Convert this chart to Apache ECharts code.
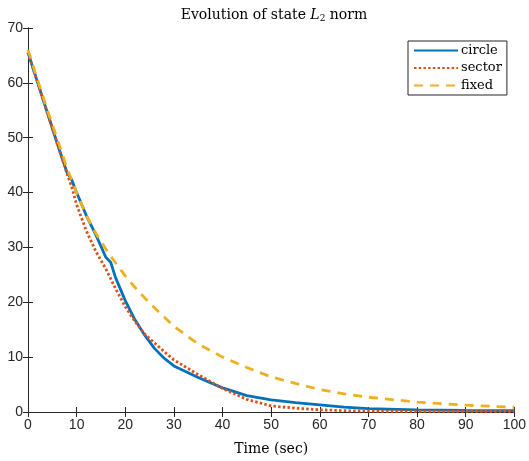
<!DOCTYPE html>
<html>
<head>
<meta charset="utf-8">
<script src="https://cdn.jsdelivr.net/npm/echarts@6/dist/echarts.min.js"></script>
<style>html,body{margin:0;padding:0;background:#fff}#c{width:529px;height:461px}</style>
</head>
<body>
<div id="c"></div>
<script>
var time   = [0, 2, 4, 6, 8, 9, 10, 12, 14, 16, 17, 18, 20, 22, 24, 26, 28, 30, 35, 40, 45, 50, 55, 60, 65, 70, 80, 90, 100];
var circle = [65.5, 60.0, 54.5, 49.0, 43.7, 42.3, 40.0, 35.8, 32.2, 28.2, 27.3, 24.5, 20.3, 16.8, 14.0, 11.6, 9.8, 8.4, 6.3, 4.4, 3.0, 2.2, 1.7, 1.3, 0.9, 0.6, 0.4, 0.3, 0.25];
var sector = [65.5, 60.0, 54.5, 49.0, 43.5, 41.0, 37.8, 33.0, 29.2, 26.1, 24.3, 22.5, 19.2, 16.5, 14.2, 12.6, 11.0, 9.5, 6.8, 4.3, 2.3, 1.1, 0.7, 0.4, 0.25, 0.15, 0.1, 0.1, 0.1];
var fixed  = [66.0, 60.5, 55.0, 49.8, 44.5, 42.2, 40.0, 35.8, 32.5, 29.7, 28.4, 27.2, 24.8, 22.7, 20.8, 19.0, 17.3, 15.6, 12.4, 10.0, 8.1, 6.4, 5.2, 4.1, 3.3, 2.7, 1.8, 1.25, 0.85];
var seriesNames = ['circle', 'sector', 'fixed'];
var xTicks = [0, 10, 20, 30, 40, 50, 60, 70, 80, 90, 100];
var yTicks = [0, 10, 20, 30, 40, 50, 60, 70];

function pairs(v) { return time.map(function (t, i) { return [t, v[i]]; }); }

var axisCol = '#262626';
var serif = '"DejaVu Serif", "Liberation Serif", serif';
var sans = '"Liberation Sans", Arial, sans-serif';

var chart = echarts.init(document.getElementById('c'));
var tickCommon = { show: true, inside: true, length: 5, lineStyle: { color: axisCol, width: 1 } };
chart.setOption({
  animation: false,
  backgroundColor: '#fff',
  title: {
    text: '{n|Evolution of state }{i|L}{s|2}{n| norm}',
    left: 269, top: 2, textAlign: 'center',
    textStyle: {
      fontWeight: 'normal',
      rich: {
        n: { fontFamily: serif, fontSize: 14, fontWeight: 'normal', color: '#000' },
        i: { fontFamily: serif, fontSize: 14, fontWeight: 'normal', fontStyle: 'italic', color: '#000' },
        s: { fontFamily: serif, fontSize: 9, fontWeight: 'normal', color: '#000', padding: [7, 0, 0, 0] }
      }
    }
  },
  grid: { left: 28, right: 14, top: 28, bottom: 49 },
  legend: {
    data: seriesNames,
    orient: 'vertical',
    left: 408, top: 41,
    padding: [3, 5, 3, 5],
    itemWidth: 44, itemHeight: 12, itemGap: 4.5,
    itemStyle: { opacity: 0 },
    borderColor: axisCol, borderWidth: 1, backgroundColor: '#fff',
    textStyle: { fontFamily: serif, fontSize: 13, color: '#000', padding: [0, 0, 0, -2] }
  },
  xAxis: [
    {
      type: 'value', min: 0, max: 100, interval: 10,
      name: 'Time (sec)', nameLocation: 'middle', nameGap: 30,
      nameTextStyle: { fontFamily: serif, fontSize: 14, color: '#000' },
      axisLine: { show: true, lineStyle: { color: axisCol, width: 1 } },
      axisTick: tickCommon,
      axisLabel: { fontFamily: sans, fontSize: 14, color: axisCol, margin: 6,
        formatter: function (v) { return xTicks.indexOf(v) >= 0 ? String(v) : ''; } },
      splitLine: { show: false }
    },
    {
      type: 'value', min: 0, max: 100, interval: 10, position: 'top',
      axisLine: { show: true, lineStyle: { color: axisCol, width: 1 } },
      axisTick: tickCommon, axisLabel: { show: false }, splitLine: { show: false }
    }
  ],
  yAxis: [
    {
      type: 'value', min: 0, max: 70, interval: 10,
      axisLine: { show: true, lineStyle: { color: axisCol, width: 1 } },
      axisTick: tickCommon,
      axisLabel: { fontFamily: sans, fontSize: 14, color: axisCol, margin: 5,
        formatter: function (v) { return yTicks.indexOf(v) >= 0 ? String(v) : ''; } },
      splitLine: { show: false }
    },
    {
      type: 'value', min: 0, max: 70, interval: 10, position: 'right',
      axisLine: { show: true, lineStyle: { color: axisCol, width: 1 } },
      axisTick: tickCommon, axisLabel: { show: false }, splitLine: { show: false }
    }
  ],
  series: [
    { name: seriesNames[0], type: 'line', data: pairs(circle), showSymbol: false, symbol: 'none',
      smooth: false, z: 3,
      itemStyle: { color: '#0072BD' }, lineStyle: { color: '#0072BD', width: 2.8 } },
    { name: seriesNames[1], type: 'line', data: pairs(sector), showSymbol: false, symbol: 'none',
      smooth: false, z: 4,
      itemStyle: { color: '#D95319' }, lineStyle: { color: '#D95319', width: 2.8, type: [2.5, 2.2] } },
    { name: seriesNames[2], type: 'line', data: pairs(fixed), showSymbol: false, symbol: 'none',
      smooth: false, z: 5,
      itemStyle: { color: '#EDB120' }, lineStyle: { color: '#EDB120', width: 2.8, type: [9, 7] } }
  ]
});
</script>
</body>
</html>
